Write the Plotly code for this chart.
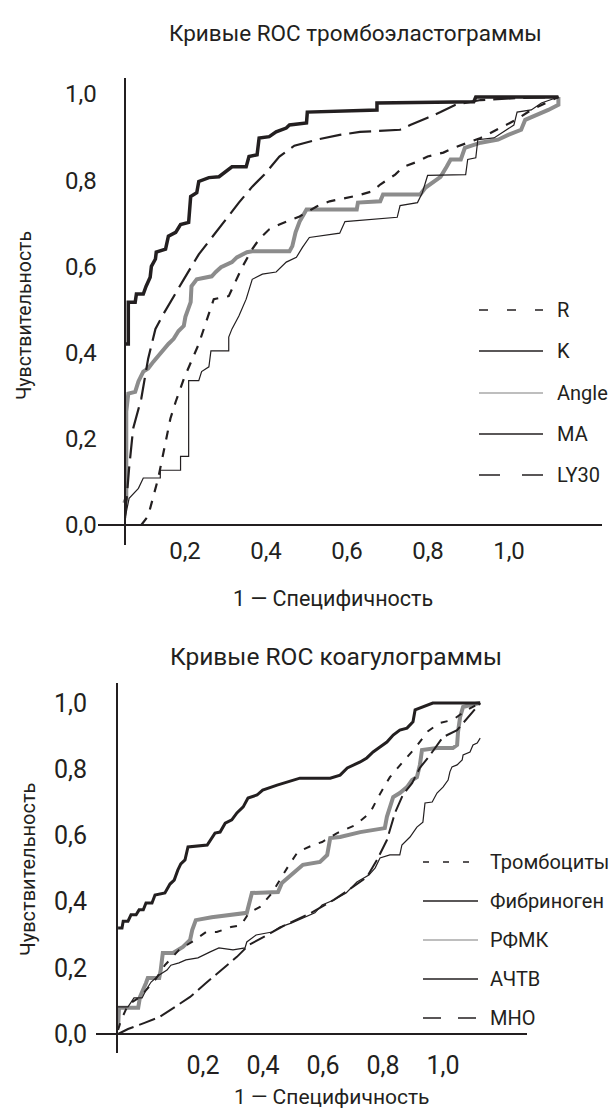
import plotly.graph_objects as go

W, H = 609, 1111
FONT = "Roboto, 'Open Sans', sans-serif"
INK = "#231f20"
GREY = "#8c8c8c"
LGREY = "#a8a8a8"

# ---------------- Top chart: ROC curves of thromboelastogram ----------------
top_title = "Кривые ROC тромбоэластограммы"
top_xlabel = "1 — Специфичность"
ylabel = "Чувствительность"
top_series = ["R", "K", "Angle", "MA", "LY30"]

tick_vals = [0.2, 0.4, 0.6, 0.8, 1.0]
tick_text = ["0,2", "0,4", "0,6", "0,8", "1,0"]
ytick_vals = [0.0, 0.2, 0.4, 0.6, 0.8, 1.0]
ytick_text = ["0,0", "0,2", "0,4", "0,6", "0,8", "1,0"]

R_x = [0.092, 0.109, 0.134, 0.152, 0.164, 0.177, 0.197, 0.234, 0.259, 0.271, 0.308, 0.326,
       0.341, 0.366, 0.383, 0.408, 0.433, 0.483, 0.525, 0.557, 0.624, 0.662, 0.682, 0.719,
       0.739, 0.774, 0.799, 0.838, 0.863, 0.930, 1.017, 1.055, 1.122]
R_y = [0.000, 0.021, 0.109, 0.189, 0.247, 0.286, 0.339, 0.420, 0.490, 0.524, 0.531, 0.566,
       0.598, 0.640, 0.663, 0.686, 0.697, 0.716, 0.739, 0.751, 0.764, 0.774, 0.790, 0.813,
       0.831, 0.843, 0.855, 0.864, 0.875, 0.898, 0.940, 0.963, 0.993]

K_x = [0.050, 0.060, 0.060, 0.077, 0.080, 0.097, 0.104, 0.114, 0.117, 0.127, 0.129, 0.152,
       0.159, 0.177, 0.189, 0.209, 0.214, 0.229, 0.234, 0.259, 0.284, 0.308, 0.316, 0.351,
       0.358, 0.378, 0.383, 0.408, 0.425, 0.450, 0.458, 0.500, 0.502, 0.674, 0.674, 0.913,
       0.918, 1.122]
K_y = [0.420, 0.420, 0.517, 0.517, 0.536, 0.536, 0.554, 0.575, 0.600, 0.617, 0.633, 0.640,
       0.670, 0.679, 0.697, 0.702, 0.762, 0.771, 0.797, 0.806, 0.808, 0.824, 0.831, 0.831,
       0.855, 0.859, 0.898, 0.901, 0.912, 0.921, 0.928, 0.933, 0.958, 0.963, 0.979, 0.982,
       0.993, 0.993]

Angle_x = [0.050, 0.055, 0.055, 0.060, 0.077, 0.085, 0.097, 0.109, 0.122, 0.134, 0.147, 0.159,
           0.172, 0.184, 0.197, 0.201, 0.214, 0.216, 0.229, 0.254, 0.266, 0.276, 0.289, 0.316,
           0.328, 0.353, 0.366, 0.458, 0.465, 0.473, 0.483, 0.500, 0.624, 0.627, 0.682, 0.689,
           0.781, 0.794, 0.811, 0.831, 0.846, 0.856, 0.881, 0.891, 0.930, 0.973, 0.998, 1.030,
           1.040, 1.072, 1.097, 1.122, 1.122]
Angle_y = [0.051, 0.062, 0.263, 0.305, 0.309, 0.333, 0.356, 0.363, 0.379, 0.393, 0.409, 0.420,
           0.432, 0.450, 0.462, 0.483, 0.517, 0.554, 0.570, 0.575, 0.577, 0.587, 0.598, 0.610,
           0.621, 0.633, 0.635, 0.635, 0.647, 0.679, 0.704, 0.732, 0.732, 0.748, 0.751, 0.767,
           0.767, 0.783, 0.794, 0.808, 0.831, 0.848, 0.848, 0.875, 0.887, 0.894, 0.905, 0.917,
           0.940, 0.952, 0.963, 0.975, 0.993]

MA_x = [0.052, 0.062, 0.085, 0.097, 0.139, 0.139, 0.189, 0.189, 0.209, 0.209, 0.234, 0.241,
        0.259, 0.264, 0.308, 0.308, 0.316, 0.333, 0.351, 0.366, 0.391, 0.425, 0.450, 0.475,
        0.490, 0.507, 0.582, 0.595, 0.724, 0.731, 0.774, 0.786, 0.799, 0.893, 0.898, 0.918,
        0.923, 0.963, 1.012, 1.020, 1.055, 1.080, 1.122]
MA_y = [0.016, 0.062, 0.085, 0.109, 0.109, 0.127, 0.127, 0.159, 0.159, 0.335, 0.335, 0.356,
        0.367, 0.404, 0.404, 0.436, 0.455, 0.485, 0.524, 0.570, 0.582, 0.587, 0.610, 0.621,
        0.644, 0.667, 0.677, 0.704, 0.714, 0.741, 0.748, 0.771, 0.811, 0.813, 0.848, 0.852,
        0.894, 0.898, 0.928, 0.958, 0.963, 0.979, 0.993]

LY30_x = [0.052, 0.062, 0.072, 0.092, 0.109, 0.127, 0.147, 0.177, 0.197, 0.234, 0.271, 0.301,
          0.333, 0.366, 0.396, 0.433, 0.470, 0.525, 0.582, 0.632, 0.731, 0.756, 0.799, 0.831,
          0.868, 0.930, 1.030, 1.122]
LY30_y = [0.016, 0.132, 0.224, 0.293, 0.386, 0.455, 0.490, 0.540, 0.570, 0.628, 0.674, 0.709,
          0.748, 0.785, 0.813, 0.855, 0.880, 0.894, 0.905, 0.912, 0.917, 0.928, 0.945, 0.958,
          0.975, 0.986, 0.991, 0.993]

# ---------------- Bottom chart: ROC curves of coagulogram ----------------
bot_title = "Кривые ROC коагулограммы"
bot_xlabel = "1 — Специфичность"
bot_series = ["Тромбоциты", "Фибриноген", "РФМК", "АЧТВ", "МНО"]

Plt_x = [-0.083, -0.073, -0.050, -0.010, 0.040, 0.073, 0.120, 0.173, 0.210, 0.246, 0.293,
         0.327, 0.353, 0.390, 0.430, 0.456, 0.487, 0.516, 0.567, 0.597, 0.647, 0.707, 0.757,
         0.784, 0.823, 0.866, 0.907, 0.950, 0.990, 1.033, 1.074, 1.124]
Plt_y = [0.012, 0.042, 0.088, 0.112, 0.163, 0.208, 0.254, 0.284, 0.308, 0.308, 0.323, 0.329,
         0.366, 0.384, 0.426, 0.465, 0.511, 0.550, 0.571, 0.580, 0.607, 0.631, 0.668, 0.716,
         0.776, 0.822, 0.864, 0.915, 0.940, 0.949, 0.976, 1.000]

Fib_x = [-0.083, -0.070, -0.066, -0.050, -0.040, -0.023, -0.013, 0.001, 0.010, 0.030, 0.040,
         0.073, 0.090, 0.104, 0.116, 0.126, 0.140, 0.150, 0.214, 0.229, 0.240, 0.257, 0.274,
         0.296, 0.313, 0.334, 0.350, 0.380, 0.399, 0.447, 0.480, 0.523, 0.624, 0.657, 0.681,
         0.724, 0.746, 0.767, 0.790, 0.813, 0.834, 0.856, 0.880, 0.900, 0.907, 0.923, 0.966,
         1.124]
Fib_y = [0.320, 0.320, 0.341, 0.341, 0.360, 0.360, 0.375, 0.375, 0.396, 0.396, 0.420, 0.426,
         0.453, 0.465, 0.495, 0.514, 0.526, 0.565, 0.571, 0.592, 0.607, 0.610, 0.637, 0.647,
         0.668, 0.686, 0.713, 0.722, 0.737, 0.752, 0.761, 0.773, 0.773, 0.782, 0.804, 0.822,
         0.834, 0.852, 0.867, 0.882, 0.903, 0.918, 0.924, 0.943, 0.979, 0.985, 1.000, 1.000]

RFMK_x = [-0.083, -0.080, -0.016, -0.010, 0.010, 0.016, 0.054, 0.059, 0.066, 0.100, 0.133,
          0.157, 0.164, 0.176, 0.229, 0.346, 0.363, 0.450, 0.463, 0.507, 0.533, 0.590, 0.614,
          0.624, 0.657, 0.724, 0.806, 0.813, 0.823, 0.834, 0.856, 0.880, 0.897, 0.913, 0.923,
          0.930, 0.980, 1.033, 1.047, 1.050, 1.057, 1.067, 1.090, 1.124]
RFMK_y = [0.021, 0.079, 0.079, 0.112, 0.154, 0.169, 0.169, 0.193, 0.245, 0.245, 0.263, 0.284,
          0.314, 0.344, 0.353, 0.366, 0.426, 0.429, 0.456, 0.489, 0.511, 0.520, 0.541, 0.592,
          0.595, 0.610, 0.622, 0.656, 0.683, 0.716, 0.728, 0.746, 0.767, 0.776, 0.813, 0.858,
          0.864, 0.864, 0.873, 0.912, 0.958, 0.988, 0.994, 1.000]

APTT_x = [-0.083, -0.050, -0.030, -0.003, 0.010, 0.027, 0.054, 0.080, 0.093, 0.120, 0.143,
          0.183, 0.224, 0.253, 0.300, 0.340, 0.346, 0.377, 0.430, 0.456, 0.494, 0.533, 0.573,
          0.597, 0.636, 0.677, 0.713, 0.753, 0.774, 0.790, 0.799, 0.823, 0.856, 0.863, 0.890,
          0.913, 0.933, 0.940, 0.964, 0.980, 1.000, 1.017, 1.023, 1.030, 1.047, 1.064, 1.067,
          1.090, 1.100, 1.114, 1.124]
APTT_y = [0.082, 0.082, 0.109, 0.109, 0.133, 0.157, 0.178, 0.193, 0.208, 0.215, 0.224, 0.230,
          0.248, 0.260, 0.254, 0.260, 0.278, 0.299, 0.308, 0.323, 0.335, 0.350, 0.366, 0.390,
          0.405, 0.426, 0.459, 0.480, 0.502, 0.532, 0.535, 0.541, 0.541, 0.571, 0.595, 0.625,
          0.640, 0.698, 0.701, 0.728, 0.746, 0.767, 0.792, 0.807, 0.813, 0.828, 0.843, 0.852,
          0.873, 0.879, 0.894]

INR_x = [-0.083, -0.050, 0.003, 0.054, 0.107, 0.157, 0.210, 0.260, 0.313, 0.353, 0.417,
         0.480, 0.560, 0.636, 0.690, 0.746, 0.780, 0.813, 0.840, 0.866, 0.897, 0.923, 0.957,
         1.000, 1.047, 1.090, 1.124]
INR_y = [0.000, 0.015, 0.033, 0.051, 0.082, 0.112, 0.154, 0.193, 0.233, 0.269, 0.302, 0.332,
         0.366, 0.405, 0.438, 0.474, 0.526, 0.586, 0.668, 0.722, 0.758, 0.804, 0.843, 0.897,
         0.918, 0.964, 1.000]

# ---------------- styles ----------------
top_styles = {
    "R": dict(color=INK, width=2.2, dash="9px,9px"),
    "K": dict(color=INK, width=3.5),
    "Angle": dict(color=GREY, width=4),
    "MA": dict(color=INK, width=1.2),
    "LY30": dict(color=INK, width=2.2, dash="22px,8px"),
}
top_leg_styles = {
    "R": dict(color=INK, width=1.5, dash="9px,19px"),
    "K": dict(color=INK, width=1.5),
    "Angle": dict(color=LGREY, width=1.5),
    "MA": dict(color=INK, width=1.5),
    "LY30": dict(color=INK, width=1.5, dash="21px,22px"),
}
bot_styles = {
    "Тромбоциты": dict(color=INK, width=2, dash="7px,9px"),
    "Фибриноген": dict(color=INK, width=3),
    "РФМК": dict(color=GREY, width=4),
    "АЧТВ": dict(color=INK, width=1.2),
    "МНО": dict(color=INK, width=2, dash="17px,6px"),
}
bot_leg_styles = {
    "Тромбоциты": dict(color=INK, width=1.5, dash="6px,14px"),
    "Фибриноген": dict(color=INK, width=1.5),
    "РФМК": dict(color=LGREY, width=1.5),
    "АЧТВ": dict(color=INK, width=1.5),
    "МНО": dict(color=INK, width=1.5, dash="18px,17px"),
}

top_data = {"R": (R_x, R_y), "K": (K_x, K_y), "Angle": (Angle_x, Angle_y),
            "MA": (MA_x, MA_y), "LY30": (LY30_x, LY30_y)}
bot_data = {"Тромбоциты": (Plt_x, Plt_y), "Фибриноген": (Fib_x, Fib_y),
            "РФМК": (RFMK_x, RFMK_y), "АЧТВ": (APTT_x, APTT_y), "МНО": (INR_x, INR_y)}

fig = go.Figure()
for name in ["Angle", "MA", "R", "LY30", "K"]:
    x, y = top_data[name]
    fig.add_trace(go.Scatter(x=x, y=y, mode="lines", name=name, line=top_styles[name],
                             xaxis="x", yaxis="y", showlegend=False, hoverinfo="skip"))
for name in ["РФМК", "АЧТВ", "МНО", "Тромбоциты", "Фибриноген"]:
    x, y = bot_data[name]
    fig.add_trace(go.Scatter(x=x, y=y, mode="lines", name=name, line=bot_styles[name],
                             xaxis="x2", yaxis="y2", showlegend=False, hoverinfo="skip"))


def fx(px):
    return px / W


def fy(py):
    return 1 - py / H


# top axes: pixel mapping px = 104 + 405*v ; py = 525 - 431*v
tx0, tsx = 104, 405
ty0, tsy = 525, 431
# bottom axes: px = 143 + 300*v ; py = 1034 - 331*v
bx0, bsx = 143, 300
by0, bsy = 1034, 331

axis_common = dict(showgrid=False, zeroline=False, showline=True, linecolor=INK, linewidth=2,
                   ticks="", tickmode="array", fixedrange=True)

layout = dict(
    width=W, height=H, margin=dict(l=0, r=0, t=0, b=0),
    paper_bgcolor="white", plot_bgcolor="rgba(0,0,0,0)",
    font=dict(family=FONT, color=INK),
    showlegend=False,
    xaxis=dict(axis_common, domain=[fx(98), fx(602)],
               range=[(98 - tx0) / tsx, (602 - tx0) / tsx],
               anchor="free", position=fy(ty0),
               tickvals=tick_vals, ticktext=tick_text,
               tickfont=dict(size=24, family=FONT, color=INK), ticklabelstandoff=4),
    yaxis=dict(axis_common, domain=[fy(545), fy(78)],
               range=[(ty0 - 545) / tsy, (ty0 - 78) / tsy],
               anchor="free", position=fx(124.5),
               tickvals=ytick_vals, ticktext=ytick_text,
               tickfont=dict(size=24, family=FONT, color=INK), ticklabelstandoff=22),
    xaxis2=dict(axis_common, domain=[fx(96), fx(527)],
                range=[(96 - bx0) / bsx, (527 - bx0) / bsx],
                anchor="free", position=fy(by0),
                tickvals=tick_vals, ticktext=tick_text,
                tickfont=dict(size=25, family=FONT, color=INK), ticklabelstandoff=9),
    yaxis2=dict(axis_common, domain=[fy(1053), fy(683)],
                range=[(by0 - 1053) / bsy, (by0 - 683) / bsy],
                anchor="free", position=fx(117),
                tickvals=ytick_vals, ticktext=ytick_text,
                tickfont=dict(size=25, family=FONT, color=INK), ticklabelstandoff=24),
)

annotations = []
shapes = []


def text(px, py, s, size, angle=0, xanchor="center"):
    annotations.append(dict(x=fx(px), y=fy(py), xref="paper", yref="paper", text=s,
                            showarrow=False, xanchor=xanchor, yanchor="middle",
                            textangle=angle, font=dict(size=size, family=FONT, color=INK)))


text(355, 33, top_title, 22.5)
text(333, 598, top_xlabel, 21.5)
text(24, 316, ylabel, 19.5, angle=-90)

text(336, 656, bot_title, 24.5)
text(331, 1097, bot_xlabel, 21)
text(28, 870, ylabel, 20, angle=-90)

top_leg_y = [310, 351, 393, 434, 475]
for name, py in zip(top_series, top_leg_y):
    shapes.append(dict(type="line", xref="paper", yref="paper", x0=fx(479), x1=fx(543),
                       y0=fy(py), y1=fy(py), line=top_leg_styles[name]))
    text(555, py, name, 20, xanchor="left")

bot_leg_y = [862, 901, 940, 979, 1018]
for name, py in zip(bot_series, bot_leg_y):
    shapes.append(dict(type="line", xref="paper", yref="paper", x0=fx(423), x1=fx(478),
                       y0=fy(py), y1=fy(py), line=bot_leg_styles[name]))
    text(488, py, name, 20, xanchor="left")

layout["annotations"] = annotations
layout["shapes"] = shapes
fig.update_layout(**layout)
fig.write_html("out.html", config={"displayModeBar": False},
               post_script="document.body.style.margin='0px';")
